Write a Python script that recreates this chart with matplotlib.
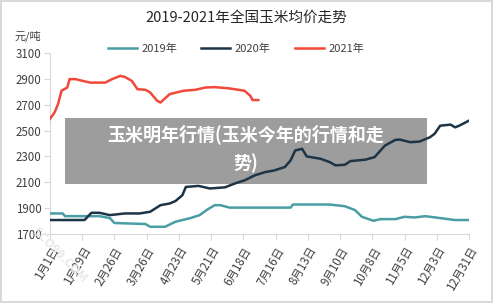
import matplotlib
matplotlib.use("Agg")
import matplotlib.pyplot as plt

plt.rcParams['font.family'] = ['Noto Sans CJK SC', 'DejaVu Sans']

# day-of-year index (0 = Jan 1) and price (元/吨)
days_2019 = [0, 11, 13, 43, 52, 56, 83, 87, 100, 109, 122, 130, 136, 143, 148, 156, 209, 211, 243, 256, 265, 271, 281, 287, 300, 308, 317, 326, 339, 352, 364]
vals_2019 = [1859, 1859, 1838, 1838, 1823, 1785, 1777, 1756, 1756, 1795, 1823, 1846, 1885, 1923, 1923, 1904, 1904, 1928, 1928, 1915, 1885, 1833, 1802, 1815, 1815, 1833, 1828, 1838, 1823, 1808, 1808]

days_2020 = [0, 30, 36, 43, 52, 65, 78, 87, 96, 104, 109, 115, 118, 129, 139, 152, 161, 169, 178, 187, 195, 204, 209, 213, 219, 223, 235, 243, 248, 256, 261, 274, 282, 291, 300, 304, 313, 321, 330, 334, 339, 348, 352, 356, 364]
vals_2020 = [1808, 1808, 1864, 1864, 1846, 1859, 1859, 1872, 1923, 1936, 1955, 2000, 2064, 2072, 2052, 2061, 2092, 2115, 2154, 2179, 2192, 2218, 2269, 2346, 2359, 2300, 2282, 2256, 2231, 2235, 2264, 2275, 2295, 2384, 2428, 2430, 2410, 2415, 2448, 2474, 2538, 2546, 2525, 2540, 2577]

days_2021 = [0, 4, 7, 10, 15, 17, 22, 28, 35, 48, 54, 61, 65, 71, 76, 83, 87, 93, 96, 104, 116, 126, 135, 143, 156, 169, 174, 176, 181]
vals_2021 = [2590, 2641, 2705, 2808, 2833, 2898, 2898, 2885, 2871, 2871, 2898, 2923, 2915, 2885, 2820, 2815, 2795, 2731, 2717, 2782, 2808, 2815, 2833, 2836, 2826, 2808, 2769, 2736, 2736]

tick_days = [0, 28, 56, 84, 112, 140, 168, 196, 224, 252, 280, 308, 336, 364]
tick_labels = ['1月1日', '1月29日', '2月26日', '3月26日', '4月23日', '5月21日', '6月18日',
               '7月16日', '8月13日', '9月10日', '10月8日', '11月5日', '12月3日', '12月31日']
y_ticks = [1700, 1900, 2100, 2300, 2500, 2700, 2900, 3100]
series_names = ['2019年', '2020年', '2021年']
colors = ['#4a9da4', '#1d3446', '#f2483a']

fig = plt.figure(figsize=(4.93, 3.03), dpi=100)
fig.patch.set_edgecolor('#d9d9d9')
fig.patch.set_linewidth(1.5)
ax = fig.add_axes([50/493, 1-234/303, 419/493, 181/303])

for d, v, c, n in zip([days_2019, days_2020, days_2021], [vals_2019, vals_2020, vals_2021], colors, series_names):
    ax.plot(d, v, color=c, lw=1.8, label=n, solid_joinstyle='round', zorder=3)

ax.set_xlim(0, 364)
ax.set_ylim(1700, 3100)
ax.set_yticks(y_ticks)
ax.set_yticklabels([str(t) for t in y_ticks], fontsize=8.3, color='#404040')
ax.set_xticks(tick_days)
ax.set_xticklabels(tick_labels, rotation=60, ha='right', rotation_mode='anchor', fontsize=8.3, color='#404040')
for s in ['top', 'right']:
    ax.spines[s].set_visible(False)
ax.spines['left'].set_color('#d9d9d9')
ax.spines['bottom'].set_color('#d9d9d9')
ax.tick_params(axis='both', colors='#d9d9d9', labelcolor='#404040', length=4, width=0.8)
ax.tick_params(axis='y', length=4, pad=2)

fig.text(246/493, 1-18/303, '2019-2021年全国玉米均价走势', ha='center', va='center', fontsize=10.5, color='#262626')
fig.text(28/493, 1-36/303, '元/吨', ha='center', va='center', fontsize=8, color='#404040')

leg = ax.legend(loc='center', bbox_to_anchor=(236/493, 1-49/303), bbox_transform=fig.transFigure,
                ncol=3, frameon=False, fontsize=8, handlelength=2.6, columnspacing=2.2, handletextpad=0.4)
for t in leg.get_texts():
    t.set_color('#404040')

# overlay banner (behind the lines, text on top)
banner = plt.Rectangle((65/493, 1-184/303), 362/493, 66/303, transform=fig.transFigure,
                       facecolor='#9d9d9d', edgecolor='none', zorder=2, clip_on=False)
ax.add_patch(banner)
fig.text(246/493, 1-134/303, '玉米明年行情(玉米今年的行情和走', ha='center', va='center', fontsize=13,
         color='white', fontweight='bold', zorder=6)
fig.text(246/493, 1-163/303, '势)', ha='center', va='center', fontsize=13,
         color='white', fontweight='bold', zorder=6)

fig.text(60/493, 1-255/303, 'SCO99.COM', ha='center', va='center', fontsize=9, color='#e8e8e8',
         rotation=-45, fontweight='bold', zorder=0)

fig.savefig('out.png', dpi=100)
